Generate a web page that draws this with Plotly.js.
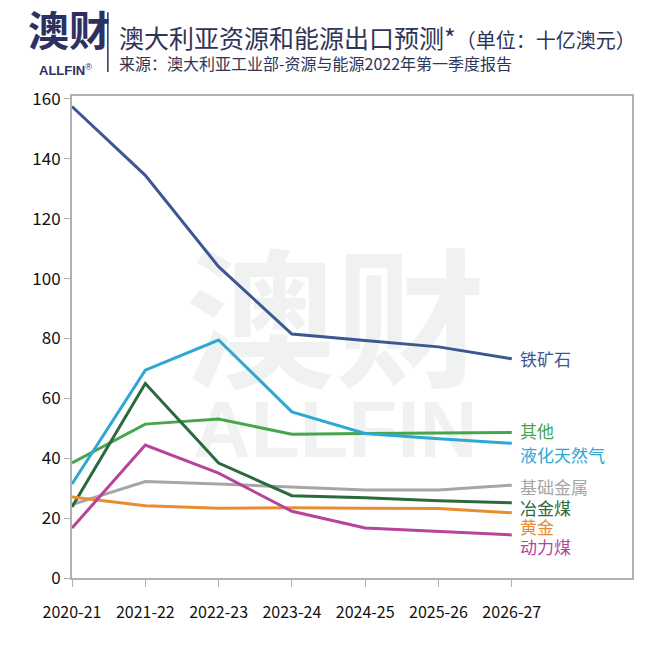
<!DOCTYPE html>
<html><head><meta charset="utf-8">
<script src="https://cdn.plot.ly/plotly-3.0.1.min.js"></script>
<style>html,body{margin:0;padding:0;background:#fff}#chart{width:655px;height:665px}</style>
</head><body><div id="chart"></div>
<script>
const categories = ["2020-21","2021-22","2022-23","2023-24","2024-25","2025-26","2026-27"];
const ironOre     = [157.5, 134.5, 104, 81.5, 79.3, 77.2, 73.2];
const lng         = [31.4, 69.4, 79.5, 55.5, 48.3, 46.5, 45];
const other       = [38.4, 51.4, 53.1, 48, 48.3, 48.5, 48.6];
const metCoal     = [23.7, 65, 38.4, 27.5, 26.8, 25.8, 25.1];
const baseMetals  = [24.5, 32.2, 31.4, 30.4, 29.4, 29.4, 31];
const gold        = [27.1, 24.1, 23.3, 23.5, 23.3, 23.2, 21.8];
const thermalCoal = [16.7, 44.4, 35, 22.3, 16.7, 15.5, 14.4];
const seriesNames = ["铁矿石","其他","液化天然气","基础金属","冶金煤","黄金","动力煤"];
const yTicks = [0,20,40,60,80,100,120,140,160];

const idx = categories.map((c,i)=>i);
const series = [
  {name: seriesNames[0], y: ironOre, color: "#3d5793", ys: 0},
  {name: seriesNames[1], y: other, color: "#47a64c", ys: 2},
  {name: seriesNames[2], y: lng, color: "#2ea7d2", ys: -11},
  {name: seriesNames[3], y: baseMetals, color: "#a6a6a6", ys: -1},
  {name: seriesNames[4], y: metCoal, color: "#2b6a3d", ys: -5},
  {name: seriesNames[5], y: gold, color: "#e98d33", ys: -14},
  {name: seriesNames[6], y: thermalCoal, color: "#b5449a", ys: -12},
];
const font = "'Noto Sans CJK SC', 'Noto Sans', sans-serif";
const traces = series.map(s => ({
  x: idx, y: s.y, type: "scatter", mode: "lines", name: s.name,
  line: {color: s.color, width: 3}, hoverinfo: "skip"
}));
const annotations = series.map(s => ({
  x: idx[idx.length-1], y: s.y[s.y.length-1], xref: "x", yref: "y",
  text: s.name, showarrow: false, xanchor: "left", yanchor: "middle",
  xshift: 6, yshift: s.ys, font: {family: font, size: 17, color: s.color}
}));
// header
annotations.push({xref:"paper", yref:"paper", x:-0.082, y:1.141, xanchor:"left", yanchor:"middle",
  text:"<b>澳财</b>", showarrow:false, font:{family:font, size:41, color:"#2d3162"}});
annotations.push({xref:"paper", yref:"paper", x:-0.062, y:1.054, xanchor:"left", yanchor:"middle",
  text:"<b>ALLFIN</b><sup>®</sup>", showarrow:false, font:{family:"Liberation Sans, sans-serif", size:13, color:"#2d3162"}});
annotations.push({xref:"paper", yref:"paper", x:0.08, y:1.122, xanchor:"left", yanchor:"middle",
  text:"澳大利亚资源和能源出口预测*<span style='font-size:20px'>（单位：十亿澳元）</span>", showarrow:false,
  font:{family:font, size:25, color:"#2f3558"}});
annotations.push({xref:"paper", yref:"paper", x:0.08, y:1.068, xanchor:"left", yanchor:"middle",
  text:"来源：澳大利亚工业部-资源与能源2022年第一季度报告", showarrow:false,
  font:{family:font, size:16, color:"#2f3558"}});

const layout = {
  width: 655, height: 665,
  margin: {l: 72, r: 23, t: 96, b: 87},
  paper_bgcolor: "#fff", plot_bgcolor: "rgba(0,0,0,0)",
  showlegend: false,
  font: {family: font, color: "#111"},
  xaxis: {
    range: [0, 7.64], tickmode: "array", tickvals: idx, ticktext: categories,
    showgrid: false, zeroline: false, showline: true, mirror: true,
    linecolor: "#b0b0b0", linewidth: 2, ticks: "outside", ticklen: 7, tickcolor: "#b0b0b0",
    tickfont: {family: font, size: 16, color: "#111"}, ticklabelstandoff: 12
  },
  yaxis: {
    range: [0, 161], tickmode: "array", tickvals: yTicks,
    showgrid: false, zeroline: false, showline: true, mirror: true,
    linecolor: "#b0b0b0", linewidth: 2, ticks: "outside", ticklen: 6, tickcolor: "#b0b0b0",
    tickfont: {family: font, size: 17, color: "#111"}
  },
  shapes: [
    {type:"line", xref:"paper", yref:"paper", x0:0.064, x1:0.064, y0:1.05, y1:1.174,
      line:{color:"#2d3162", width:1.5}},
    {type:"rect", xref:"paper", yref:"paper", x0:0.2, x1:0.74, y0:0.39, y1:0.62, layer:"below",
      line:{width:0}, fillcolor:"rgba(0,0,0,0)",
      label:{text:"澳财", textposition:"middle center",
        font:{family:font, size:150, weight:"bold", color:"rgba(170,185,185,0.18)"}}},
    {type:"rect", xref:"paper", yref:"paper", x0:0.2, x1:0.74, y0:0.26, y1:0.39, layer:"below",
      line:{width:0}, fillcolor:"rgba(0,0,0,0)",
      label:{text:"ALLFIN", textposition:"middle center",
        font:{family:"Liberation Sans, sans-serif", size:80, weight:"bold", color:"rgba(170,185,185,0.18)"}}}
  ],
  annotations: annotations
};
Plotly.newPlot("chart", traces, layout, {displayModeBar: false, staticPlot: true});
</script></body></html>
